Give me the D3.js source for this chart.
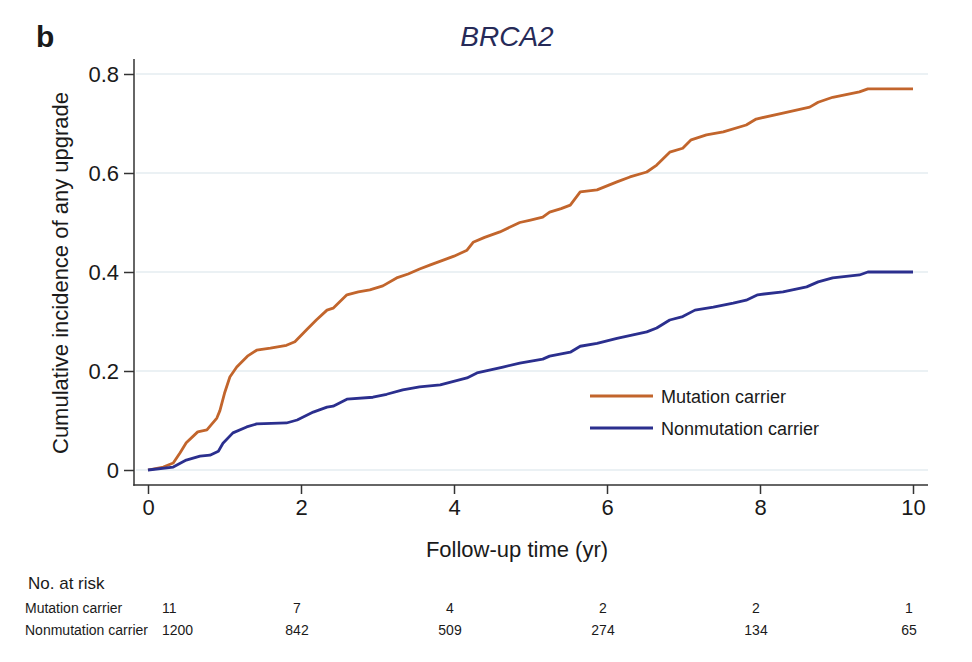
<!DOCTYPE html>
<html>
<head>
<meta charset="utf-8">
<script src="https://cdn.jsdelivr.net/npm/d3@7"></script>
<style>
  body { margin: 0; background: #fff; }
  text { font-family: "Liberation Sans", Arial, sans-serif; fill: #1a1a1a; }
</style>
</head>
<body>
<script>
var W = 972, H = 662;

// cumulative incidence
var mutTime = [0, 0.2, 0.33, 0.42, 0.5, 0.65, 0.77, 0.9, 0.94, 1.0, 1.07, 1.16, 1.3, 1.42, 1.6, 1.81, 1.92, 2.07, 2.2, 2.34, 2.42, 2.6, 2.75, 2.9, 3.07, 3.25, 3.4, 3.55, 3.7, 3.86, 4.0, 4.17, 4.25, 4.4, 4.6, 4.86, 5.0, 5.16, 5.25, 5.4, 5.52, 5.65, 5.87, 6.13, 6.3, 6.52, 6.65, 6.82, 6.99, 7.1, 7.3, 7.52, 7.82, 7.95, 8.3, 8.65, 8.76, 8.95, 9.3, 9.41, 10];
var mutInc  = [0, 0.006, 0.014, 0.035, 0.055, 0.077, 0.081, 0.105, 0.12, 0.155, 0.188, 0.208, 0.23, 0.242, 0.246, 0.252, 0.259, 0.283, 0.303, 0.323, 0.327, 0.354, 0.36, 0.364, 0.372, 0.388, 0.396, 0.406, 0.415, 0.424, 0.432, 0.444, 0.46, 0.47, 0.481, 0.5, 0.505, 0.511, 0.521, 0.528, 0.535, 0.562, 0.566, 0.582, 0.592, 0.602, 0.616, 0.642, 0.65, 0.667, 0.677, 0.683, 0.697, 0.709, 0.721, 0.733, 0.743, 0.753, 0.764, 0.77, 0.77];

var nonTime = [0, 0.33, 0.5, 0.68, 0.81, 0.92, 0.98, 1.11, 1.29, 1.42, 1.81, 1.95, 2.16, 2.34, 2.42, 2.6, 2.94, 3.12, 3.33, 3.55, 3.82, 4.17, 4.3, 4.64, 4.86, 5.16, 5.25, 5.52, 5.65, 5.87, 6.13, 6.52, 6.65, 6.82, 6.99, 7.15, 7.39, 7.65, 7.82, 7.97, 8.3, 8.61, 8.76, 8.95, 9.3, 9.41, 10];
var nonInc  = [0, 0.006, 0.02, 0.028, 0.03, 0.038, 0.054, 0.075, 0.087, 0.093, 0.095, 0.101, 0.117, 0.127, 0.129, 0.143, 0.147, 0.153, 0.162, 0.168, 0.172, 0.186, 0.196, 0.208, 0.216, 0.224, 0.23, 0.238, 0.25, 0.256, 0.266, 0.279, 0.287, 0.303, 0.31, 0.323, 0.329, 0.337, 0.343, 0.354, 0.36, 0.37, 0.38, 0.388, 0.394, 0.4, 0.4];

var xTicks = [0, 2, 4, 6, 8, 10];
var yTicks = [0, 0.2, 0.4, 0.6, 0.8];

var groups = ["Mutation carrier", "Nonmutation carrier"];
var colors = ["#c2652c", "#2b2f8e"];

// number at risk at each x tick
var riskMut = [11, 7, 4, 2, 2, 1];
var riskNon = [1200, 842, 509, 274, 134, 65];

var x = d3.scaleLinear().domain([0, 10]).range([148, 913]);
var y = d3.scaleLinear().domain([0, 0.8]).range([470, 74]);

var svg = d3.select("body").append("svg")
    .attr("width", W)
    .attr("height", H);

// gridlines
svg.append("g").selectAll("line")
    .data(yTicks)
  .enter().append("line")
    .attr("x1", 136).attr("x2", 928)
    .attr("y1", function(d) { return y(d); })
    .attr("y2", function(d) { return y(d); })
    .style("stroke", "#e4ecf1")
    .style("stroke-width", 1.5);

// axes
var yAxis = svg.append("g")
    .attr("transform", "translate(134,0)")
    .call(d3.axisLeft(y).tickValues(yTicks).tickSize(10).tickPadding(5)
      .tickFormat(function(d) { return d === 0 ? "0" : d3.format(".1f")(d); }));
var xAxis = svg.append("g")
    .attr("transform", "translate(0,485)")
    .call(d3.axisBottom(x).tickValues(xTicks).tickSize(9).tickPadding(5));

[yAxis, xAxis].forEach(function(a) {
  a.select(".domain").remove();
  a.selectAll("line").style("stroke", "#333").style("stroke-width", 1.5);
  a.selectAll("text").style("font-size", "22px").style("fill", "#1a1a1a")
    .style("font-family", "'Liberation Sans', Arial, sans-serif");
});

svg.append("line").attr("x1", 134).attr("x2", 134).attr("y1", 59).attr("y2", 485.75)
    .style("stroke", "#333").style("stroke-width", 1.5);
svg.append("line").attr("x1", 133.25).attr("x2", 928).attr("y1", 485).attr("y2", 485)
    .style("stroke", "#333").style("stroke-width", 1.5);

// curves
var line = d3.line()
    .x(function(d) { return x(d[0]); })
    .y(function(d) { return y(d[1]); });

var series = [d3.zip(mutTime, mutInc), d3.zip(nonTime, nonInc)];

svg.append("g").selectAll("path")
    .data(series)
  .enter().append("path")
    .attr("d", line)
    .style("fill", "none")
    .style("stroke", function(d, i) { return colors[i]; })
    .style("stroke-width", 2.8)
    .style("stroke-linejoin", "round");

// legend
var legend = svg.append("g").selectAll("g")
    .data(groups)
  .enter().append("g")
    .attr("transform", function(d, i) { return "translate(590," + (396 + i * 32) + ")"; });
legend.append("line")
    .attr("x1", 0).attr("x2", 63)
    .style("stroke", function(d, i) { return colors[i]; })
    .style("stroke-width", 3);
legend.append("text")
    .attr("x", 71).attr("y", 7)
    .style("font-size", "18px")
    .text(function(d) { return d; });

// titles
svg.append("text")
    .attr("x", 36).attr("y", 47)
    .style("font-size", "30px").style("font-weight", "bold")
    .text("b");

svg.append("text")
    .attr("x", 507).attr("y", 46)
    .attr("text-anchor", "middle")
    .style("font-size", "28px").style("font-style", "italic")
    .style("fill", "#262a58")
    .text("BRCA2");

svg.append("text")
    .attr("x", 517).attr("y", 557)
    .attr("text-anchor", "middle")
    .style("font-size", "22px")
    .text("Follow-up time (yr)");

svg.append("text")
    .attr("transform", "translate(68,273) rotate(-90)")
    .attr("text-anchor", "middle")
    .style("font-size", "22px")
    .text("Cumulative incidence of any upgrade");

// number at risk table
svg.append("text")
    .attr("x", 28).attr("y", 589)
    .style("font-size", "17px")
    .text("No. at risk");

var rows = [riskMut, riskNon];
rows.forEach(function(vals, r) {
  var yy = 613 + r * 22;
  svg.append("text")
      .attr("x", 25).attr("y", yy)
      .style("font-size", "14px")
      .text(groups[r]);
  svg.append("g").selectAll("text")
      .data(vals)
    .enter().append("text")
      .attr("x", function(d, i) { return i === 0 ? x(xTicks[i]) + 14 : x(xTicks[i]) - 4; })
      .attr("y", yy)
      .attr("text-anchor", function(d, i) { return i === 0 ? "start" : "middle"; })
      .style("font-size", "14px")
      .text(function(d) { return d; });
});
</script>
</body>
</html>
